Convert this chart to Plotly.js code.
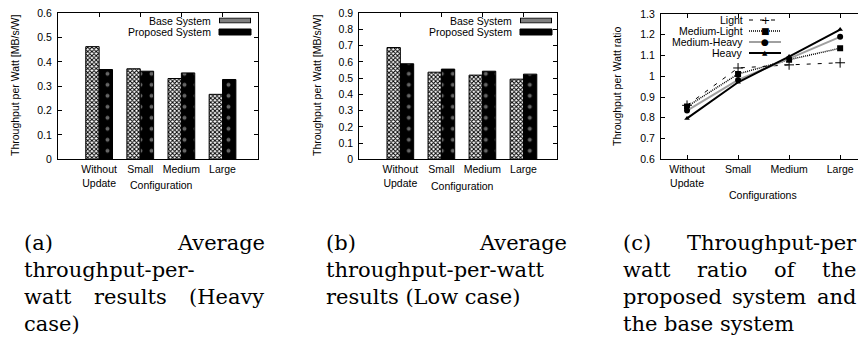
<!DOCTYPE html>
<html><head><meta charset="utf-8">
<script src="https://cdn.plot.ly/plotly-3.0.1.min.js"></script>
<style>html,body{margin:0;padding:0;background:#fff;} #chart{width:858px;height:340px;}</style>
</head><body><div id="chart"></div>
<script>
// ---------- data ----------
const categories = ['Without Update', 'Small', 'Medium', 'Large'];
const tickLabels = ['Without<br>Update', 'Small', 'Medium', 'Large'];
const barSeriesNames = ['Base System', 'Proposed System'];
const heavyBase = [0.463, 0.372, 0.332, 0.267];
const heavyProposed = [0.369, 0.362, 0.355, 0.328];
const lowBase = [0.689, 0.537, 0.519, 0.494];
const lowProposed = [0.589, 0.556, 0.543, 0.525];
const ratioNames = ['Light', 'Medium-Light', 'Medium-Heavy', 'Heavy'];
const ratioLight = [0.86, 1.04, 1.055, 1.065];
const ratioMediumLight = [0.854, 1.011, 1.08, 1.135];
const ratioMediumHeavy = [0.835, 0.982, 1.085, 1.19];
const ratioHeavy = [0.797, 0.971, 1.095, 1.225];
const yTitleBars = 'Throughput per Watt [MB/s/W]';
const yTitleRatio = 'Throughput per Watt ratio';
const xTitleBars = 'Configuration';
const xTitleRatio = 'Configurations';
const captionA = [['(a)', 'Average'], ['throughput-per-'], ['watt', 'results', '(Heavy'], ['case)']];
const captionB = [['(b)', 'Average'], ['throughput-per-watt'], ['results (Low case)']];
const captionC = [['(c)', 'Throughput-per'], ['watt', 'ratio', 'of', 'the'], ['proposed', 'system', 'and'], ['the base system']];

// ---------- helpers ----------
const W = 858, H = 340;
const px = x => x / W;
const py = y => 1 - y / H;
const SANS = 'Liberation Sans, Arial, Helvetica, sans-serif';
const SERIF = 'DejaVu Serif, serif';
const tickFont = {family: SANS, size: 10.5, color: '#000'};

const basePattern = {shape: 'x', size: 3, solidity: 0.55, fgcolor: '#000', bgcolor: '#fff', fillmode: 'replace'};
const propPattern = {shape: '.', size: 11, solidity: 0.1, fgcolor: '#666', bgcolor: '#000', fillmode: 'replace'};

function barTrace(name, y, xa, ya, pattern, color) {
  return {type: 'bar', name: name, x: categories, y: y, xaxis: xa, yaxis: ya,
    marker: {color: color, line: {color: '#000', width: 1}, pattern: pattern},
    showlegend: false, hoverinfo: 'skip'};
}

const traces = [
  barTrace(barSeriesNames[0], heavyBase, 'x', 'y', basePattern, '#fff'),
  barTrace(barSeriesNames[1], heavyProposed, 'x', 'y', propPattern, '#000'),
  barTrace(barSeriesNames[0], lowBase, 'x2', 'y2', basePattern, '#fff'),
  barTrace(barSeriesNames[1], lowProposed, 'x2', 'y2', propPattern, '#000'),
  {type: 'scatter', mode: 'lines+markers', name: ratioNames[0], x: categories, y: ratioLight, xaxis: 'x3', yaxis: 'y3',
    line: {color: '#000', width: 1, dash: '4px,7px'}, marker: {symbol: 'cross-thin', size: 7, line: {color: '#000', width: 1}, color: '#000'}, showlegend: false, hoverinfo: 'skip'},
  {type: 'scatter', mode: 'lines+markers', name: ratioNames[1], x: categories, y: ratioMediumLight, xaxis: 'x3', yaxis: 'y3',
    line: {color: '#000', width: 1.5, dash: '1px,1px'}, marker: {symbol: 'square', size: 6, color: '#000'}, showlegend: false, hoverinfo: 'skip'},
  {type: 'scatter', mode: 'lines+markers', name: ratioNames[2], x: categories, y: ratioMediumHeavy, xaxis: 'x3', yaxis: 'y3',
    line: {color: '#a0a0a0', width: 2}, marker: {symbol: 'circle', size: 6, color: '#000'}, showlegend: false, hoverinfo: 'skip'},
  {type: 'scatter', mode: 'lines+markers', name: ratioNames[3], x: categories, y: ratioHeavy, xaxis: 'x3', yaxis: 'y3',
    line: {color: '#000', width: 2}, marker: {symbol: 'triangle-up', size: 5, color: '#000'}, showlegend: false, hoverinfo: 'skip'}
];

function xAxis(domain, range, anchor, mirror) {
  return {domain: domain, range: range, anchor: anchor, type: 'category',
    tickmode: 'array', tickvals: categories, ticktext: tickLabels,
    ticks: 'inside', ticklen: 4, tickwidth: 1, tickcolor: '#000',
    showline: true, linecolor: '#000', linewidth: 1, mirror: mirror,
    showgrid: false, zeroline: false, tickfont: tickFont, fixedrange: true};
}
function yAxis(domain, range, dtick, anchor, mirror) {
  return {domain: domain, range: range, anchor: anchor, dtick: dtick, tick0: 0,
    ticks: 'inside', ticklen: 4, tickwidth: 1, tickcolor: '#000',
    showline: true, linecolor: '#000', linewidth: 1, mirror: mirror,
    showgrid: false, zeroline: false, tickfont: tickFont, fixedrange: true, ticklabelstandoff: 3};
}

const yDomAB = [py(159.3), py(13.3)];
const yDomC = [py(159.3), py(14)];

const annotations = [];
const shapes = [];
const images = [];
function txt(t, x, y, xanchor, opts) {
  annotations.push(Object.assign({text: t, x: px(x), y: py(y), xref: 'paper', yref: 'paper',
    xanchor: xanchor, yanchor: 'middle', showarrow: false, borderpad: 0,
    font: {family: SANS, size: 10.5, color: '#000'}}, opts || {}));
}

// axis titles
txt(yTitleBars, 15, 86, 'center', {textangle: -90});
txt(yTitleBars, 317, 86, 'center', {textangle: -90});
txt(yTitleRatio, 617, 87, 'center', {textangle: -90});
txt(xTitleBars, 161, 185, 'center');
txt(xTitleBars, 462, 186, 'center');
txt(xTitleRatio, 763, 195, 'center');

// bar legends (text on left, sample on right)
const checkerSvg = "<svg xmlns='http://www.w3.org/2000/svg' width='32' height='6'><defs><pattern id='p' width='2' height='2' patternUnits='userSpaceOnUse'><rect width='2' height='2' fill='white'/><rect width='1' height='1' fill='black'/><rect x='1' y='1' width='1' height='1' fill='black'/></pattern></defs><rect x='0.5' y='0.5' width='31' height='5' fill='url(#p)' stroke='black' stroke-width='1'/></svg>";
const checkerUri = 'data:image/svg+xml;charset=utf-8,' + encodeURIComponent(checkerSvg);
[[212, 219, 251], [513, 520, 552]].forEach(function (p) {
  txt(barSeriesNames[0], p[0], 20.5, 'right');
  txt(barSeriesNames[1], p[0], 32, 'right');
  images.push({source: checkerUri, xref: 'paper', yref: 'paper', x: px(p[1]), y: py(17.5),
    sizex: (p[2] - p[1]) / W, sizey: 6 / H, sizing: 'stretch', xanchor: 'left', yanchor: 'top', layer: 'above'});
  shapes.push({type: 'rect', xref: 'paper', yref: 'paper', x0: px(p[1]), x1: px(p[2]), y0: py(29), y1: py(35),
    fillcolor: '#000', line: {color: '#000', width: 1}});
});

// ratio legend
const legY = [20, 31, 42, 53];
const legStyles = [
  {line: {color: '#000', width: 1, dash: '4px,7px'}, glyph: '+', gsize: 11},
  {line: {color: '#000', width: 1.5, dash: '1px,1px'}, glyph: '■', gsize: 9},
  {line: {color: '#a0a0a0', width: 2}, glyph: '●', gsize: 9},
  {line: {color: '#000', width: 2}, glyph: '▲', gsize: 7}
];
ratioNames.forEach(function (n, i) {
  txt(n, 744, legY[i], 'right');
  shapes.push({type: 'line', xref: 'paper', yref: 'paper', x0: px(749), x1: px(781), y0: py(legY[i]), y1: py(legY[i]), line: legStyles[i].line});
  txt(legStyles[i].glyph, 765, legY[i], 'center', {font: {family: 'DejaVu Sans, sans-serif', size: legStyles[i].gsize, color: '#000'}});
});

// captions (justified like LaTeX)
const ctx = document.createElement('canvas').getContext('2d');
const capSize = 21;
ctx.font = capSize + "px 'DejaVu Serif'";
const capLineY = [243, 270, 297, 324];
function caption(lines, left, right) {
  lines.forEach(function (words, i) {
    const y = capLineY[i];
    if (words.length === 1) {
      txt(words[0], left, y, 'left', {font: {family: SERIF, size: capSize, color: '#000'}});
      return;
    }
    const widths = words.map(w => ctx.measureText(w).width);
    const total = widths.reduce((a, b) => a + b, 0);
    const gap = (right - left - total) / (words.length - 1);
    let x = left;
    words.forEach(function (w, j) {
      txt(w, x, y, 'left', {font: {family: SERIF, size: capSize, color: '#000'}});
      x += widths[j] + gap;
    });
  });
}
caption(captionA, 23, 263);
caption(captionB, 325, 565);
caption(captionC, 622, 855);

const layout = {
  width: W, height: H, margin: {l: 0, r: 0, t: 0, b: 0}, paper_bgcolor: '#fff', plot_bgcolor: '#fff',
  showlegend: false, barmode: 'group', bargap: 0.35, bargroupgap: 0,
  font: {family: SANS, size: 10.5, color: '#000'},
  xaxis: xAxis([px(58), px(258.3)], [-1, 3.87], 'y', 'ticks'),
  yaxis: yAxis(yDomAB, [0, 0.6], 0.1, 'x', 'ticks'),
  xaxis2: xAxis([px(359.3), px(556.7)], [-1, 3.81], 'y2', 'ticks'),
  yaxis2: yAxis(yDomAB, [0, 0.9], 0.1, 'x2', 'ticks'),
  xaxis3: xAxis([px(661), 1], [-0.51, 3.35], 'y3', 'ticks'),
  yaxis3: yAxis(yDomC, [0.6, 1.3], 0.1, 'x3', false),
  annotations: annotations, shapes: shapes, images: images
};

Plotly.newPlot('chart', traces, layout, {displayModeBar: false, staticPlot: true});
</script></body></html>
